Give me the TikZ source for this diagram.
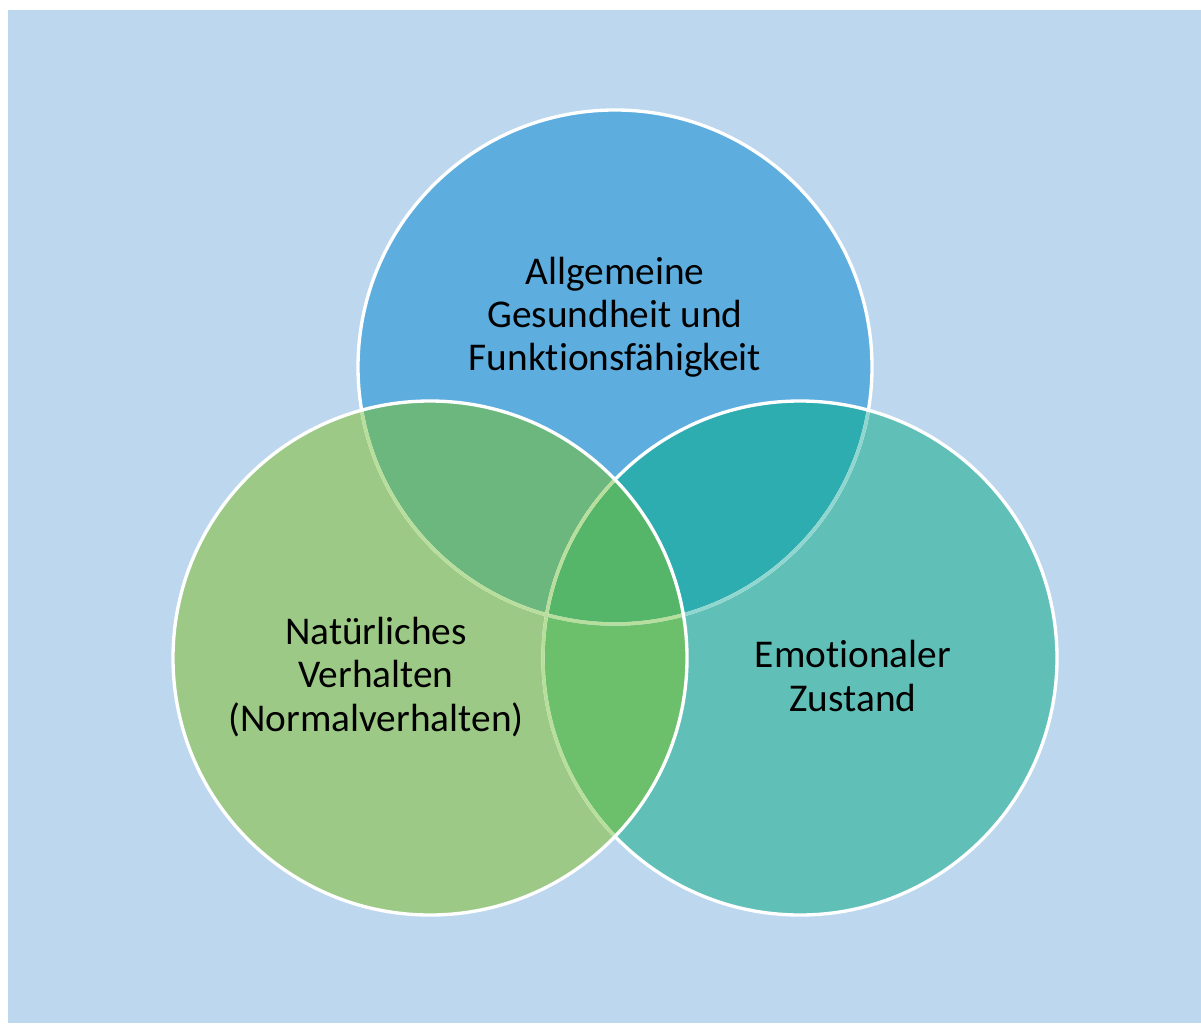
\documentclass[tikz,border=0pt]{standalone}
\usepackage{fontspec}
\setmainfont[Ligatures={NoCommon}]{Carlito}
\definecolor{bgc}{HTML}{BDD7EE}
\definecolor{topc}{HTML}{5DAEDF}
\definecolor{leftc}{HTML}{9CC985}
\definecolor{rightc}{HTML}{60C0B8}
\definecolor{tlc}{HTML}{6BB77D}
\definecolor{trc}{HTML}{2EADB1}
\definecolor{lrc}{HTML}{6CC06B}
\definecolor{tlrc}{HTML}{55B568}
\definecolor{fadegreen}{HTML}{B8DE9C}
\definecolor{fadeteal}{HTML}{8FD6CF}
\tikzset{
  rim/.style={draw=white, line width=2.5pt},
  fadedrim/.style={line width=2.5pt},
  label/.style={align=center, inner sep=0pt, text=black,
    font=\fontsize{29.5}{32.3}\selectfont}
}
\begin{document}
\begin{tikzpicture}[x=0.75pt,y=-0.75pt]
\useasboundingbox (0,0) rectangle (1201,1023);
\fill[bgc] (8,10) rectangle (1201,1023);
\coordinate (T) at (615,367);
\coordinate (L) at (430,658);
\coordinate (R) at (800,658);
\def\rr{257}
% base fills
\fill[topc] (T) circle[radius=\rr];
\fill[rightc] (R) circle[radius=\rr];
\fill[leftc] (L) circle[radius=\rr];
% pairwise overlaps
\begin{scope}
  \clip (T) circle[radius=\rr];
  \fill[trc] (R) circle[radius=\rr];
  \fill[tlc] (L) circle[radius=\rr];
\end{scope}
\begin{scope}
  \clip (L) circle[radius=\rr];
  \fill[lrc] (R) circle[radius=\rr];
  \clip (R) circle[radius=\rr];
  \fill[tlrc] (T) circle[radius=\rr];
\end{scope}
% top border
\draw[rim] (T) circle[radius=\rr];
\begin{scope}
  \clip (R) circle[radius=\rr];
  \draw[fadedrim, draw=fadeteal] (T) circle[radius=\rr];
\end{scope}
\begin{scope}
  \clip (L) circle[radius=\rr];
  \draw[fadedrim, draw=fadegreen] (T) circle[radius=\rr];
\end{scope}
% right border
\draw[rim] (R) circle[radius=\rr];
\begin{scope}
  \clip (L) circle[radius=\rr];
  \draw[fadedrim, draw=fadegreen] (R) circle[radius=\rr];
\end{scope}
% left border
\draw[rim] (L) circle[radius=\rr];
% labels
\node[label] (tlabel) at (615,317) {Allgemeine\\Gesundheit und\\Funktionsfähigkeit};
\node[label] (llabel) at (376,677) {Natürliches\\Verhalten\\(Normalverhalten)};
\node[label] (rlabel) at (853,676) {Emotionaler\\Zustand};
\end{tikzpicture}
\end{document}
